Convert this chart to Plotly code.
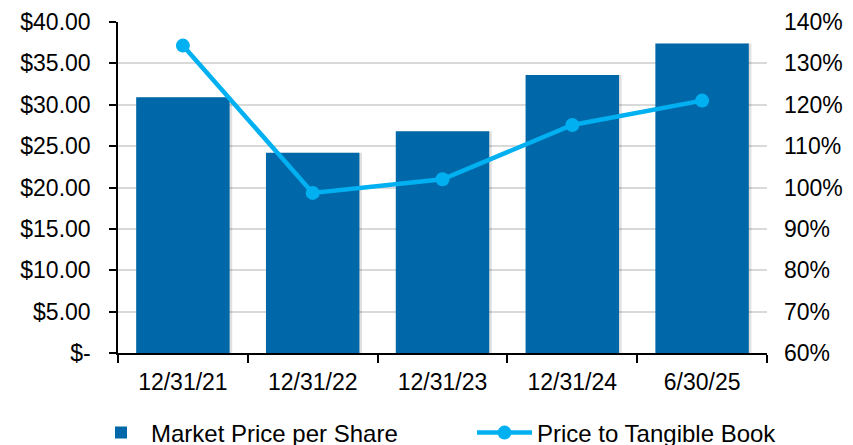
import plotly.graph_objects as go

categories = ["12/31/21", "12/31/22", "12/31/23", "12/31/24", "6/30/25"]
market_price = [30.9, 24.2, 26.8, 33.6, 37.4]
price_to_tbv = [1.343, 0.987, 1.020, 1.151, 1.210]
left_tickvals = [0, 5, 10, 15, 20, 25, 30, 35, 40]
left_ticktext = ["$-", "$5.00", "$10.00", "$15.00", "$20.00", "$25.00", "$30.00", "$35.00", "$40.00"]
right_tickvals = [0.6, 0.7, 0.8, 0.9, 1.0, 1.1, 1.2, 1.3, 1.4]

BAR = "#0068A8"
LINE = "#00B0F0"
FONT = "Liberation Sans, Arial, sans-serif"

fig = go.Figure()
# soft shadow behind bars
fig.add_trace(go.Bar(
    x=categories, y=market_price, width=0.72, offset=-0.34,
    marker=dict(color="rgba(0,0,0,0.12)", line=dict(width=0)),
    showlegend=False, hoverinfo="skip", yaxis="y"))
fig.add_trace(go.Bar(
    x=categories, y=market_price, name="Market Price per Share",
    width=0.72, offset=-0.36,
    marker=dict(color=BAR, line=dict(width=0)), yaxis="y", legend="legend"))
fig.add_trace(go.Scatter(
    x=categories, y=price_to_tbv, name="Price to Tangible Book",
    mode="lines+markers", line=dict(color=LINE, width=4.5),
    marker=dict(color=LINE, size=14), yaxis="y2", legend="legend2"))

LEG_Y = 1 - 425 / 445

fig.update_layout(
    width=853, height=445,
    margin=dict(l=110, r=94, t=14, b=100),
    paper_bgcolor="white", plot_bgcolor="white",
    font=dict(family=FONT, size=23, color="black"),
    barmode="overlay",
    showlegend=True,
    legend=dict(orientation="h", x=(91 - 118) / 649, xanchor="left",
                y=LEG_Y, yref="container", yanchor="middle",
                font=dict(size=24), itemwidth=50, bgcolor="rgba(0,0,0,0)"),
    legend2=dict(orientation="h", x=(472 - 118) / 649, xanchor="left",
                 y=LEG_Y, yref="container", yanchor="middle",
                 font=dict(size=24), itemwidth=55, bgcolor="rgba(0,0,0,0)"),
    xaxis=dict(
        type="category", showline=True, linecolor="black", linewidth=1.5,
        ticks="outside", tickson="boundaries", ticklen=8, tickcolor="black", tickwidth=1.5,
        showgrid=False, tickfont=dict(size=23), ticklabelstandoff=8, automargin=False,
    ),
    yaxis=dict(
        range=[0, 40], tickvals=left_tickvals, ticktext=left_ticktext,
        showline=True, linecolor="black", linewidth=1.5,
        ticks="outside", ticklen=7, tickcolor="black", tickwidth=1.5,
        showgrid=True, gridcolor="#D9D9D9", gridwidth=1.5,
        zeroline=False, tickfont=dict(size=23), ticklabelstandoff=14, automargin=False,
    ),
    yaxis2=dict(
        range=[0.6, 1.4], tickvals=right_tickvals, tickformat=".0%",
        overlaying="y", side="right", showline=False, ticks="",
        showgrid=False, zeroline=False, tickfont=dict(size=23), ticklabelstandoff=16,
        automargin=False,
    ),
)

fig.write_html("out.html")
